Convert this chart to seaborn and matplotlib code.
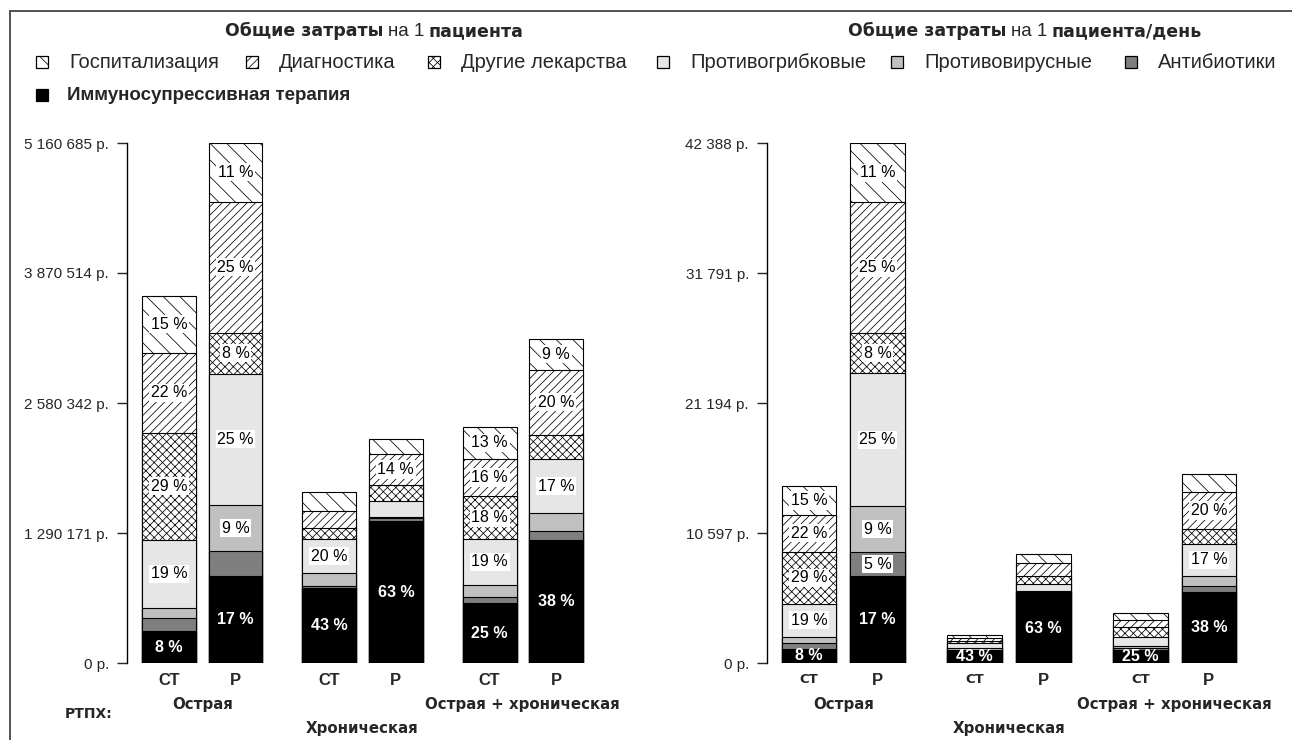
import numpy as np
import pandas as pd
import matplotlib
matplotlib.use("Agg")
import matplotlib.pyplot as plt
import matplotlib.transforms as mtrans
import seaborn as sns
from matplotlib.patches import Rectangle
from matplotlib.lines import Line2D

# ---------------- data ----------------
categories = ["Госпитализация", "Диагностика", "Другие лекарства",
              "Противогрибковые", "Противовирусные", "Антибиотики",
              "Иммуносупрессивная терапия"]
bar_labels = ["СТ", "Р", "СТ", "Р", "СТ", "Р"]
group_labels = ["Острая", "Хроническая", "Острая + хроническая"]
title_total_parts = ["Общие затраты", "на 1", "пациента"]
title_day_parts = ["Общие затраты", "на 1", "пациента/день"]
rtph_label = "РТПХ:"

yticks_total = [0, 1290171, 2580342, 3870514, 5160685]
yticks_day = [0, 10597, 21194, 31791, 42388]

# total cost per patient (rubles), bars: Acute CT, Acute P, Chronic CT, Chronic P, A+C CT, A+C P
hosp_total = [569000, 582800, 188600, 148900, 314600, 304700]
diag_total = [794000, 1303000, 164700, 314600, 374100, 645100]
other_total = [1059000, 403900, 109200, 158800, 422800, 241200]
antifungal_total = [678000, 1300000, 337400, 154800, 453500, 535900]
antiviral_total = [99000, 463400, 126000, 13900, 122100, 175700]
antibio_total = [133000, 241100, 22800, 29800, 59500, 89300]
immuno_total = [314000, 866400, 744300, 1405200, 595400, 1223600]

# cost per patient per day (rubles)
hosp_day = [2307, 4809, 293, 766, 571, 1410]
diag_day = [3049, 10678, 204, 1084, 603, 3073]
other_day = [4206, 3261, 163, 652, 815, 1198]
antifungal_day = [2723, 10817, 465, 571, 758, 2576]
antiviral_day = [456, 3750, 122, 57, 139, 848]
antibio_day = [489, 1981, 49, 82, 187, 489]
immuno_day = [1174, 7067, 1019, 5706, 1035, 5788]

# percentage labels shown on segments
hosp_lbl_total = ["15 %", "11 %", "", "", "13 %", "9 %"]
diag_lbl_total = ["22 %", "25 %", "", "14 %", "16 %", "20 %"]
other_lbl_total = ["29 %", "8 %", "", "", "18 %", ""]
antifungal_lbl_total = ["19 %", "25 %", "20 %", "", "19 %", "17 %"]
antiviral_lbl_total = ["", "9 %", "", "", "", ""]
antibio_lbl_total = ["", "", "", "", "", ""]
immuno_lbl_total = ["8 %", "17 %", "43 %", "63 %", "25 %", "38 %"]

hosp_lbl_day = ["15 %", "11 %", "", "", "", ""]
diag_lbl_day = ["22 %", "25 %", "", "", "", "20 %"]
other_lbl_day = ["29 %", "8 %", "", "", "", ""]
antifungal_lbl_day = ["19 %", "25 %", "", "", "", "17 %"]
antiviral_lbl_day = ["", "9 %", "", "", "", ""]
antibio_lbl_day = ["", "5 %", "", "", "", ""]
immuno_lbl_day = ["8 %", "17 %", "43 %", "63 %", "25 %", "38 %"]

# ---------------- style ----------------
face_colors = ["white", "white", "white", "#e6e6e6", "#c0c0c0", "#7f7f7f", "black"]
hatches = ["\\\\", "////", "xxxx", None, None, None, None]

sns.set_style("white")
plt.rcParams["font.family"] = ["Liberation Sans", "DejaVu Sans"]
plt.rcParams["hatch.linewidth"] = 0.55
plt.rcParams["hatch.color"] = "#222222"

W, H = 1292, 740
fig = plt.figure(figsize=(W / 100, H / 100), dpi=100)


def fx(px):
    return px / W


def fy(py):
    return 1 - py / H


BOLD_WIDE = ["DejaVu Sans"]

ax1 = fig.add_axes([fx(127), fy(663), fx(600) - fx(127), fy(143) - fy(663)])
ax2 = fig.add_axes([fx(767), fy(663), fx(1250) - fx(767), fy(143) - fy(663)])

pos1 = [0, 1, 2.41, 3.41, 4.82, 5.82]
pos2 = [0, 1, 2.42, 3.42, 4.84, 5.84]


def fmt_rub(v):
    return f"{v:,}".replace(",", " ") + " р."


def draw(ax, layers, labels, pos, width, yticks, xlim, small_ct=False):
    # layers given top->bottom (legend order); stack bottom->top
    stack = np.array(layers[::-1], dtype=float)
    stack_lbl = labels[::-1]
    colors = face_colors[::-1]
    hts = hatches[::-1]
    cum = np.cumsum(stack, axis=0)
    n = len(stack)
    for k in range(n - 1, -1, -1):
        df = pd.DataFrame({"x": pos, "y": cum[k]})
        kw = dict(hatch=hts[k]) if hts[k] else {}
        sns.barplot(data=df, x="x", y="y", native_scale=True, width=width,
                    color=colors[k], edgecolor="black", linewidth=0.8,
                    saturation=1, errorbar=None, ax=ax, **kw)
    for k in range(n):
        for i, lab in enumerate(stack_lbl[k]):
            if not lab:
                continue
            ymid = cum[k][i] - stack[k][i] / 2
            if colors[k] == "black":
                ax.text(pos[i], ymid, lab, ha="center", va="center",
                        color="white", fontsize=11.5, fontweight="bold")
            else:
                ax.text(pos[i], ymid, lab, ha="center", va="center",
                        color="black", fontsize=11.5,
                        bbox=dict(facecolor="white", edgecolor="none", pad=1.2))
    ax.set_xlim(*xlim)
    ax.set_ylim(0, yticks[-1])
    ax.set_yticks(yticks)
    ax.set_yticklabels([fmt_rub(v) for v in yticks], fontsize=11)
    ax.set_xticks(pos)
    ax.set_xticklabels(bar_labels, fontsize=12, fontweight="bold")
    if small_ct:
        for t in ax.get_xticklabels():
            if t.get_text() == "СТ":
                t.set_fontsize(9.5)
                t.set_family(BOLD_WIDE)
    ax.set_xlabel("")
    ax.set_ylabel("")
    ax.tick_params(axis="y", direction="out", length=7, width=1, pad=6, left=True)
    ax.tick_params(axis="x", length=0, pad=7)
    for s in ["top", "right", "bottom"]:
        ax.spines[s].set_visible(False)
    ax.spines["left"].set_linewidth(1)
    ax.spines["left"].set_color("black")
    # group labels
    tr = mtrans.blended_transform_factory(ax.transData, fig.transFigure)
    for g, glab in enumerate(group_labels):
        cx = (pos[2 * g] + pos[2 * g + 1]) / 2
        yy = 705 if g != 1 else 728
        ax.text(cx, fy(yy), glab, transform=tr, ha="center", va="center",
                fontsize=10.8, fontweight="bold", family=BOLD_WIDE)


layers_total = [hosp_total, diag_total, other_total, antifungal_total,
                antiviral_total, antibio_total, immuno_total]
labels_total = [hosp_lbl_total, diag_lbl_total, other_lbl_total, antifungal_lbl_total,
                antiviral_lbl_total, antibio_lbl_total, immuno_lbl_total]
layers_day = [hosp_day, diag_day, other_day, antifungal_day,
              antiviral_day, antibio_day, immuno_day]
labels_day = [hosp_lbl_day, diag_lbl_day, other_lbl_day, antifungal_lbl_day,
              antiviral_lbl_day, antibio_lbl_day, immuno_lbl_day]

draw(ax1, layers_total, labels_total, pos1, 0.81, yticks_total, (-0.632, 6.48))
draw(ax2, layers_day, labels_day, pos2, 0.80, yticks_day, (-0.613, 6.44), small_ct=True)

fig.text(fx(65), fy(714), rtph_label, ha="left", va="center", fontsize=10,
         fontweight="bold", family=BOLD_WIDE)


# titles with mixed weights
def mixed_title(x, y, parts):
    t = fig.text(fx(x), fy(y), parts[0], ha="left", va="center", fontsize=12.5,
                 fontweight="bold", family=BOLD_WIDE)
    t2 = plt.annotate(parts[1], xy=(1, 0), xycoords=t, xytext=(3, 0),
                      textcoords="offset points", va="bottom", ha="left",
                      fontsize=13.5, family=["Liberation Sans"], annotation_clip=False)
    plt.annotate(parts[2], xy=(1, 0), xycoords=t2, xytext=(3, 0),
                 textcoords="offset points", va="bottom", ha="left",
                 fontsize=12.5, fontweight="bold", family=BOLD_WIDE, annotation_clip=False)


mixed_title(225, 31, title_total_parts)
mixed_title(848, 31, title_day_parts)

# legend (manual)
marker_x = [36, 246, 428, 657, 891, 1125, 36]
row_y = [62, 62, 62, 62, 62, 62, 95]
text_dx = [33, 33, 33, 33, 33, 33, 31]
for i, cat in enumerate(categories):
    sz = 12
    rect = Rectangle((fx(marker_x[i]), fy(row_y[i] + sz / 2)), sz / W, sz / H,
                     transform=fig.transFigure, facecolor=face_colors[i],
                     edgecolor="black", linewidth=0.9,
                     hatch=hatches[i] if hatches[i] else None)
    fig.add_artist(rect)
    fig.text(fx(marker_x[i] + text_dx[i]), fy(row_y[i]), cat, ha="left", va="center",
             fontsize=14.5 if i < 6 else 13.5,
             fontweight="bold" if i == 6 else "normal")

# outer frame lines
fig.add_artist(Line2D([fx(10), 1.0], [fy(11), fy(11)], transform=fig.transFigure,
                      color="#444444", linewidth=1.3))
fig.add_artist(Line2D([fx(10), fx(10)], [fy(11), 0.0], transform=fig.transFigure,
                      color="#444444", linewidth=1.3))

fig.savefig("out.png", dpi=100)
